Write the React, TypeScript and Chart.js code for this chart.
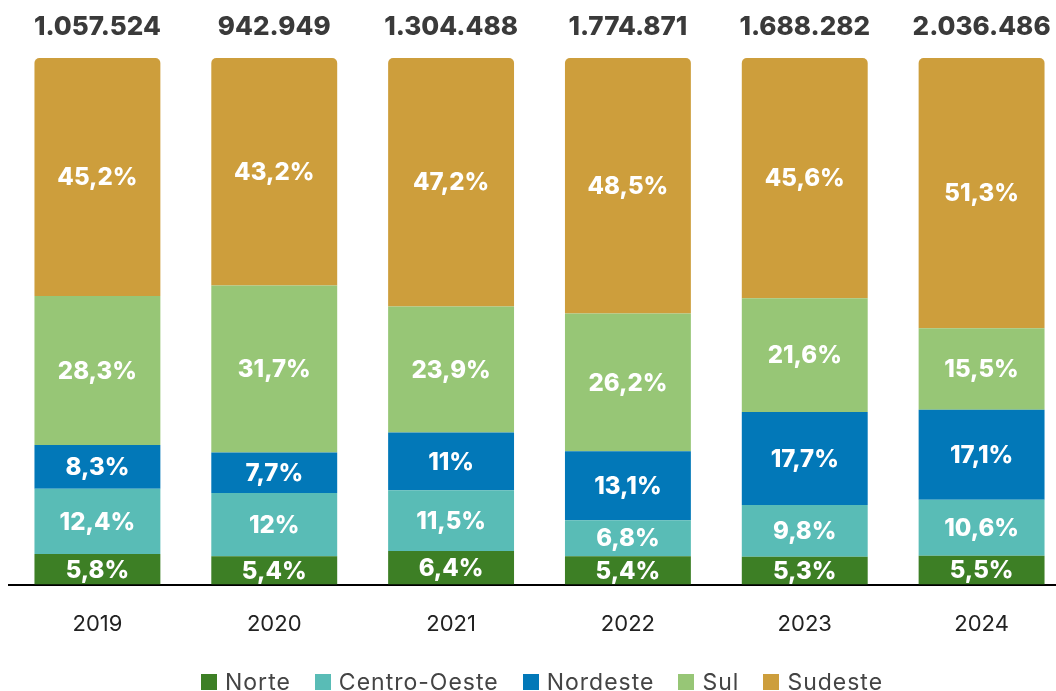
import React, { useEffect, useRef } from "react";
import { Chart, registerables } from "chart.js";

Chart.register(...registerables);

const years = ["2019", "2020", "2021", "2022", "2023", "2024"];
const totals = ["1.057.524", "942.949", "1.304.488", "1.774.871", "1.688.282", "2.036.486"];
const norte = [5.8, 5.4, 6.4, 5.4, 5.3, 5.5];
const centroOeste = [12.4, 12, 11.5, 6.8, 9.8, 10.6];
const nordeste = [8.3, 7.7, 11, 13.1, 17.7, 17.1];
const sul = [28.3, 31.7, 23.9, 26.2, 21.6, 15.5];
const sudeste = [45.2, 43.2, 47.2, 48.5, 45.6, 51.3];

const seriesNames = ["Norte", "Centro-Oeste", "Nordeste", "Sul", "Sudeste"];
const seriesData = [norte, centroOeste, nordeste, sul, sudeste];
const seriesColors = ["#3d7f25", "#59bcb6", "#0278b8", "#97c676", "#cd9e3c"];

const FONT = "Inter, 'Open Sans', sans-serif";

function fmt(v: number) {
  return String(v).replace(".", ",") + "%";
}

const labelPlugin = {
  id: "labels",
  afterDatasetsDraw(chart: any) {
    const ctx = chart.ctx;
    ctx.save();
    ctx.textAlign = "center";
    ctx.textBaseline = "middle";
    ctx.fillStyle = "#ffffff";
    ctx.font = `800 24px ${FONT}`;
    chart.data.datasets.forEach((ds: any, di: number) => {
      const meta = chart.getDatasetMeta(di);
      meta.data.forEach((el: any, i: number) => {
        const y = (el.y + el.base) / 2;
        ctx.fillText(fmt(ds.data[i]), el.x, y + 1);
      });
    });
    const top = chart.getDatasetMeta(chart.data.datasets.length - 1);
    ctx.fillStyle = "#3a3a3a";
    ctx.font = `800 26px ${FONT}`;
    top.data.forEach((el: any, i: number) => {
      ctx.fillText(totals[i], el.x, 27);
    });
    ctx.restore();
  },
};

export default function App() {
  const ref = useRef<HTMLCanvasElement | null>(null);
  useEffect(() => {
    if (!ref.current) return;
    const chart = new Chart(ref.current, {
      type: "bar",
      data: {
        labels: years,
        datasets: seriesData.map((d, i) => ({
          label: seriesNames[i],
          data: d,
          backgroundColor: seriesColors[i],
          borderWidth: 0,
          borderRadius: i === seriesData.length - 1 ? { topLeft: 5, topRight: 5, bottomLeft: 0, bottomRight: 0 } : 0,
          borderSkipped: i === seriesData.length - 1 ? "bottom" : false,
          barPercentage: 1,
          categoryPercentage: 0.712,
        })),
      },
      options: {
        responsive: false,
        animation: false,
        layout: { padding: { top: 58, left: 9, right: 2, bottom: 26 } },
        plugins: {
          legend: { display: false },
          tooltip: { enabled: false },
        },
        scales: {
          x: {
            stacked: true,
            grid: { display: false, drawTicks: false },
            border: { display: true, color: "#000000", width: 2 },
            ticks: { color: "#222222", font: { family: FONT, size: 22 }, padding: 27 },
          },
          y: {
            stacked: true,
            display: false,
            min: 0,
            max: 100,
          },
        },
      },
      plugins: [labelPlugin],
    });
    return () => chart.destroy();
  }, []);

  return (
    <div style={{ position: "fixed", left: 0, top: 0, width: 1056, height: 691, overflow: "hidden", background: "#fff" }}>
      <canvas ref={ref} width={1072} height={691} style={{ position: "absolute", left: 0, top: 0 }} />
      <div
        style={{
          position: "absolute",
          left: 201,
          top: 667,
          display: "flex",
          alignItems: "center",
          fontFamily: FONT,
          fontSize: 23,
          letterSpacing: "1px",
          color: "#444444",
          lineHeight: "30px",
          whiteSpace: "nowrap",
        }}
      >
        {seriesNames.map((n, i) => (
          <div key={n} style={{ display: "flex", alignItems: "center", marginRight: 24 }}>
            <span style={{ display: "inline-block", width: 16, height: 16, background: seriesColors[i], marginRight: 8 }} />
            <span>{n}</span>
          </div>
        ))}
      </div>
    </div>
  );
}
